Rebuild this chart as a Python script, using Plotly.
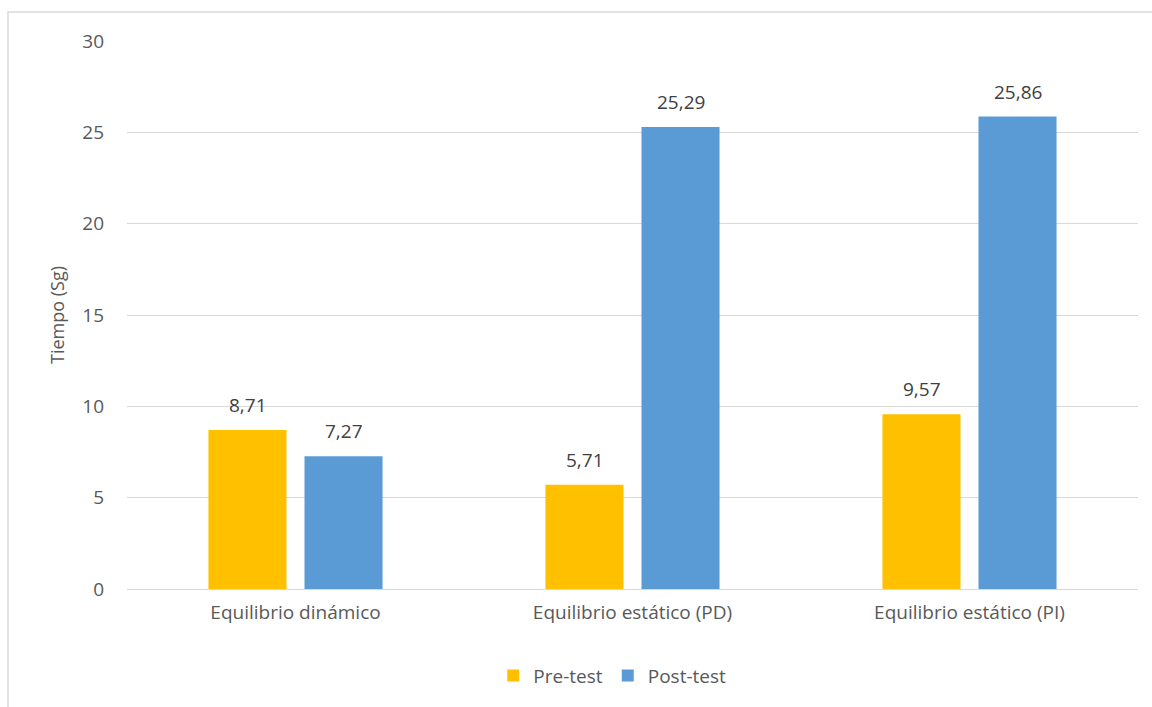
import plotly.graph_objects as go

categories = ["Equilibrio dinámico", "Equilibrio estático (PD)", "Equilibrio estático (PI)"]
pre_test = [8.71, 5.71, 9.57]
post_test = [7.27, 25.29, 25.86]
y_ticks = [0, 5, 10, 15, 20, 25, 30]

FONT = "Open Sans, Noto Sans, sans-serif"
GRAY = "#595959"
LABEL = "#404040"

series = [("Pre-test", pre_test, "#FFC000", -48), ("Post-test", post_test, "#5B9BD5", 48)]

fig = go.Figure()
annotations = []
for name, values, color, shift in series:
    fig.add_trace(go.Bar(
        name=name, x=categories, y=values,
        marker=dict(color=color, line=dict(width=0)),
    ))
    # value labels sitting above each bar
    for cat, v in zip(categories, values):
        annotations.append(dict(
            x=cat, y=v, xref="x", yref="y", xshift=shift, yshift=10,
            text=f"{v:.2f}".replace(".", ","), showarrow=False,
            yanchor="bottom", font=dict(size=19, color=LABEL, family=FONT),
        ))

fig.update_layout(
    width=1152, height=707,
    margin=dict(l=127, r=14, t=41, b=116),
    paper_bgcolor="white", plot_bgcolor="white",
    separators=",.",
    barmode="group", bargap=0.43, bargroupgap=0.1875,
    font=dict(family=FONT, color=GRAY, size=18),
    showlegend=True,
    legend=dict(orientation="h", x=0.48, xanchor="center", y=-0.158, yanchor="middle",
                font=dict(size=19, color=GRAY), traceorder="normal",
                itemwidth=30),
    xaxis=dict(showgrid=False, showline=False, ticks="", ticklabelstandoff=10,
               tickfont=dict(size=19, color=GRAY)),
    yaxis=dict(range=[0, 30], tickvals=y_ticks, showgrid=True, gridcolor="#D9D9D9",
               gridwidth=1, zeroline=True, zerolinecolor="#D9D9D9", zerolinewidth=1,
               ticks="", tickfont=dict(size=19, color=GRAY), ticklabelstandoff=22,
               title=dict(text="Tiempo (Sg)", font=dict(size=18, color=GRAY), standoff=12)),
    annotations=annotations,
    shapes=[dict(type="rect", xref="paper", yref="paper",
                 x0=-119 / 1011, x1=1.2, y0=-0.5, y1=1 + 29 / 550,
                 line=dict(color="#D9D9D9", width=1.5), fillcolor="rgba(0,0,0,0)", layer="below")],
)

fig.write_html("out.html")
